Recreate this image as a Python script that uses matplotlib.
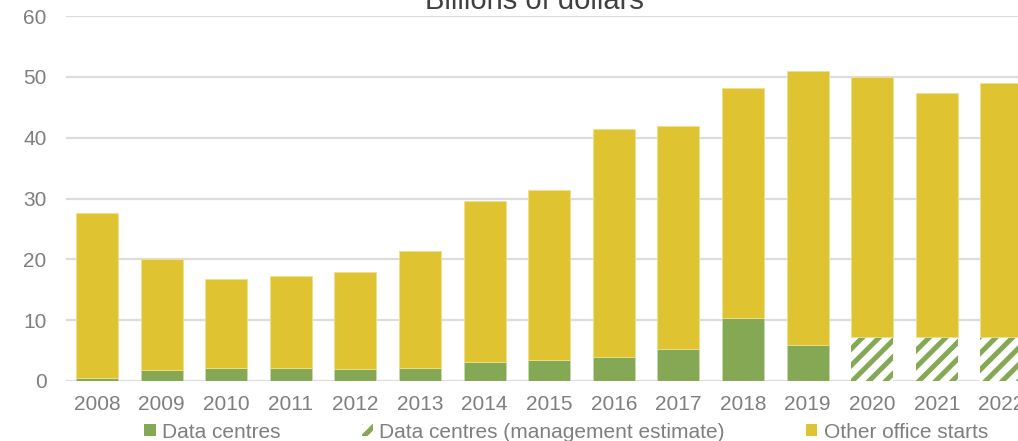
import numpy as np
import matplotlib
matplotlib.use("Agg")
import matplotlib.pyplot as plt
from matplotlib.patches import Patch

plt.rcParams['font.family'] = ['Liberation Sans', 'DejaVu Sans']
plt.rcParams['hatch.linewidth'] = 3.6

years = ['2008', '2009', '2010', '2011', '2012', '2013', '2014', '2015',
         '2016', '2017', '2018', '2019', '2020', '2021', '2022']
totals = [27.6, 20.1, 16.8, 17.3, 17.9, 21.4, 29.6, 31.4,
          41.4, 41.9, 48.2, 50.9, 50.0, 47.3, 49.0]
data_centres = [0.5, 1.8, 2.2, 2.2, 1.9, 2.2, 3.2, 3.5,
                3.9, 5.2, 10.3, 6.0, 7.2, 7.2, 7.2]
is_estimate = [False] * 12 + [True] * 3

other = [t - d for t, d in zip(totals, data_centres)]

green = '#84a854'
yellow = '#e0c330'
grey = '#7f7f7f'

fig = plt.figure(figsize=(10.18, 4.41), dpi=100)
ax = fig.add_axes([66 / 1018, 60 / 441, 969 / 1018, 365 / 441])

x = np.arange(len(years))
w = 0.65
for i in x:
    if is_estimate[i]:
        ax.bar(i, data_centres[i], w, color='white', edgecolor=green,
               hatch='//', linewidth=0, zorder=3)
    else:
        ax.bar(i, data_centres[i], w, color=green, edgecolor='#c8d8b0',
               linewidth=0.6, zorder=3)
ax.bar(x, other, w, bottom=data_centres, color=yellow, edgecolor='#f0e090',
       linewidth=0.6, zorder=3)

ax.set_xlim(-0.48, 14.52)
ax.set_ylim(0, 60)
ax.set_yticks(range(0, 61, 10))
ax.set_xticks(x)
ax.set_xticklabels(years)
ax.grid(axis='y', color='#dcdcdc', linewidth=1.6, zorder=0)
for s in ax.spines.values():
    s.set_visible(False)
ax.tick_params(length=0, labelsize=15, labelcolor=grey)
ax.tick_params(axis='y', pad=14)
ax.tick_params(axis='x', pad=10)

fig.text(534 / 1018, 1 - 9 / 441, 'Billions of dollars', ha='center',
         va='baseline', fontsize=21, color='#404040')

handles = [
    Patch(facecolor=green, edgecolor='none', label='Data centres'),
    Patch(facecolor='white', edgecolor=green, hatch='//', linewidth=0,
          label='Data centres (management estimate)'),
    Patch(facecolor=yellow, edgecolor='none', label='Other office starts'),
]
leg = fig.legend(handles=handles, loc='center', bbox_to_anchor=(566 / 1018, 1 - 432 / 441),
                 ncol=3, frameon=False, fontsize=15, handlelength=0.55,
                 handleheight=0.55, handletextpad=0.3, columnspacing=3.9,
                 borderpad=0, borderaxespad=0)
for t in leg.get_texts():
    t.set_color(grey)

fig.savefig('out.png', dpi=100)
